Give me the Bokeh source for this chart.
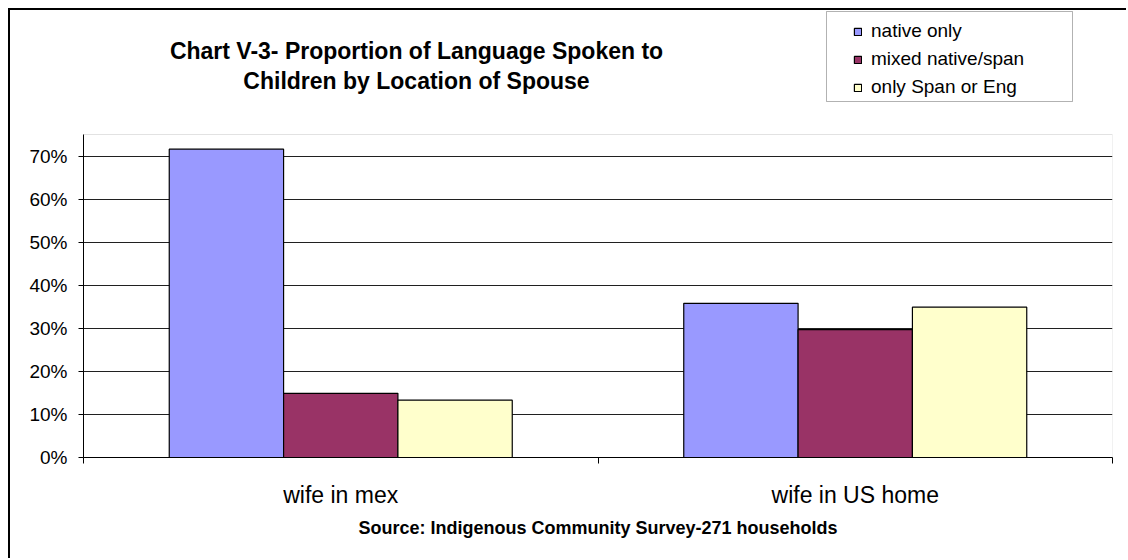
from bokeh.plotting import figure
from bokeh.models import (Range1d, FixedTicker, NumeralTickFormatter, Label,
                          Legend, LegendItem, BoxAnnotation, Title)
from bokeh.embed import file_html
from bokeh.resources import INLINE

# ---- data ----
categories = ["wife in mex", "wife in US home"]
series_names = ["native only", "mixed native/span", "only Span or Eng"]
native_only = [0.716, 0.358]
mixed_native_span = [0.149, 0.297]
only_span_or_eng = [0.133, 0.349]
series_values = [native_only, mixed_native_span, only_span_or_eng]
colors = ["#9999FF", "#993366", "#FFFFCC"]
y_ticks = [0.0, 0.1, 0.2, 0.3, 0.4, 0.5, 0.6, 0.7]
y_max = 0.75
title_lines = ["Chart V-3- Proportion of Language Spoken to",
               "Children by Location of Spouse"]
source_text = "Source: Indigenous Community Survey-271 households"

FONT = "Liberation Sans"

# ---- layout (page pixels) ----
CANVAS_X0, CANVAS_Y0 = 10, 10          # 8px offset + 2px chart border
PLOT_L, PLOT_R, PLOT_T, PLOT_B = 83, 1112, 134, 457
W = 1128 - CANVAS_X0
H = 560 - CANVAS_Y0
y_top = y_max * (PLOT_B - CANVAS_Y0) / (PLOT_B - PLOT_T)   # frame reaches canvas top

p = figure(width=W, height=H,
           x_range=Range1d(0, len(categories)), y_range=Range1d(0, y_top),
           output_backend="svg", toolbar_location=None,
           min_border_left=PLOT_L - CANVAS_X0, min_border_right=1128 - PLOT_R,
           min_border_top=0, min_border_bottom=560 - PLOT_B)
p.styles = {"margin-left": "8px", "margin-top": "8px",
            "border-left": "2px solid #000000", "border-top": "2px solid #000000"}
p.background_fill_color = "white"
p.border_fill_color = "white"
p.outline_line_color = None

# plot-area outline (grey top/right edges)
p.add_layout(BoxAnnotation(left=0, right=len(categories), bottom=0, top=y_max,
                           fill_alpha=0, line_color="#a0a0a0", line_width=1,
                           level="underlay"))

# y axis
ya = p.yaxis[0]
ya.ticker = FixedTicker(ticks=y_ticks)
ya.bounds = (0, y_max)
ya.formatter = NumeralTickFormatter(format="0%")
ya.major_tick_out = 5
ya.major_tick_in = 0
ya.minor_tick_line_color = None
ya.axis_line_color = "black"
ya.major_tick_line_color = "black"
ya.major_label_text_font = FONT
ya.major_label_text_font_size = "19px"
ya.major_label_text_color = "black"
ya.major_label_standoff = 11

# x axis: labels at category centres, tick marks at category boundaries
xa = p.xaxis[0]
centers = [i + 0.5 for i in range(len(categories))]
bounds = [float(i) for i in range(len(categories) + 1)]
xa.ticker = FixedTicker(ticks=centers, minor_ticks=bounds)
xa.major_label_overrides = {c: lab for c, lab in zip(centers, categories)}
xa.major_tick_line_color = None
xa.major_tick_out = 0
xa.major_tick_in = 0
xa.minor_tick_line_color = "black"
xa.minor_tick_out = 6
xa.minor_tick_in = 0
xa.axis_line_color = "black"
xa.major_label_text_font = FONT
xa.major_label_text_font_size = "23px"
xa.major_label_text_color = "black"
xa.major_label_standoff = 18

p.xgrid.visible = False
p.ygrid.ticker = FixedTicker(ticks=y_ticks)
p.ygrid.grid_line_color = "#202020"
p.ygrid.grid_line_width = 1

# bars (Excel gap width 150%)
bw = 1 / (len(series_names) + 1.5)
items = []
for j, (name, vals, col) in enumerate(zip(series_names, series_values, colors)):
    off = (j - (len(series_names) - 1) / 2) * bw
    xs = [c + off for c in centers]
    r = p.vbar(x=xs, top=vals, width=bw, bottom=0,
               fill_color=col, line_color="black", line_width=1.2)
    items.append(LegendItem(label=name, renderers=[r]))

# legend frame: page x 826..1072, y 11..101
p.add_layout(BoxAnnotation(left=826 - PLOT_L, right=1072 - PLOT_L,
                           top=PLOT_B - 11, bottom=PLOT_B - 101,
                           left_units="screen", right_units="screen",
                           top_units="screen", bottom_units="screen",
                           fill_color="white", fill_alpha=1.0,
                           line_color="black", line_width=1))

LEG_PAD, LEG_LH, LEG_SP, LEG_TOP = 4, 22, 6, 12
leg_h = 2 * LEG_PAD + 3 * LEG_LH + 2 * LEG_SP
legend = Legend(items=items, location=(857 - LEG_PAD - PLOT_L, PLOT_B - (LEG_TOP + leg_h)),
                orientation="vertical",
                label_text_font=FONT, label_text_font_size="19px",
                label_text_color="black",
                glyph_width=9, glyph_height=9, label_standoff=9,
                label_height=LEG_LH, spacing=LEG_SP,
                padding=LEG_PAD, margin=0,
                border_line_color=None, background_fill_alpha=0.0)
p.add_layout(legend)

# two-line title
for line, yy in zip(title_lines, [50, 80]):
    p.add_layout(Label(x=416 - PLOT_L, y=PLOT_B - yy, x_units="screen", y_units="screen",
                       text=line, text_align="center", text_baseline="middle",
                       text_font=FONT, text_font_size="23px",
                       text_font_style="bold", text_color="black"))

# source note under the category labels
p.add_layout(Title(text=source_text, align="center",
                   text_font=FONT, text_font_size="18px",
                   text_font_style="bold", text_color="black"), "below")

open("out.html", "w").write(file_html(p, INLINE))
